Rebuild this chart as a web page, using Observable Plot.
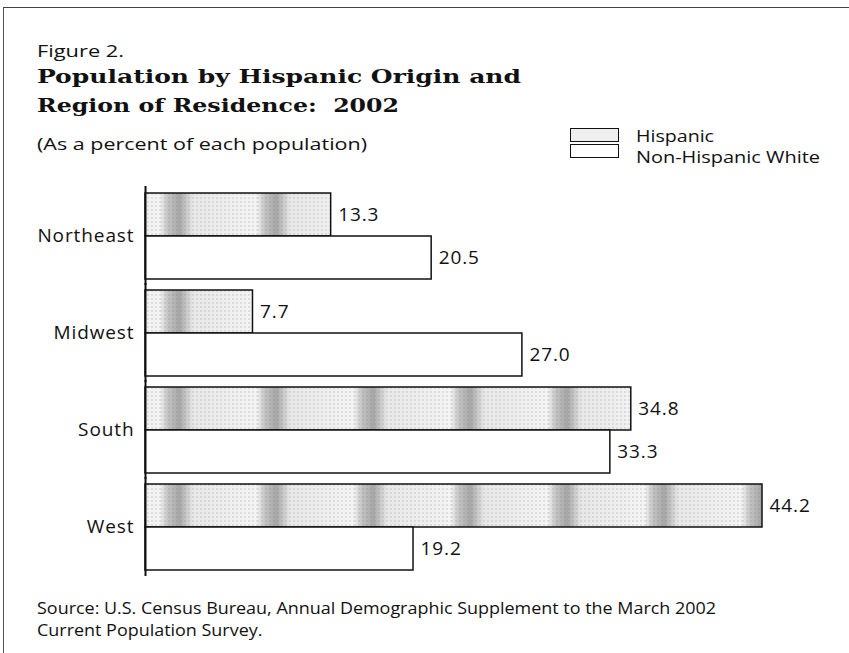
<!DOCTYPE html>
<html>
<head>
<meta charset="utf-8">
<script src="https://cdn.jsdelivr.net/npm/d3@7"></script>
<script src="https://cdn.jsdelivr.net/npm/@observablehq/plot@0.6"></script>
<style>
  html, body { margin: 0; padding: 0; background: #fff; }
  body { width: 849px; height: 653px; position: relative; overflow: hidden; font-family: "Open Sans", sans-serif; color: #111; }
  #frame { position: absolute; left: 3px; top: 7px; width: 846px; height: 660px; border-left: 1.5px solid #555; border-top: 1.5px solid #444; }
  .t { position: absolute; white-space: nowrap; transform-origin: 0 0; line-height: 1; }
  .serif { font-family: "DejaVu Serif", serif; font-weight: bold; }
  .sw { position: absolute; left: 570px; width: 49px; height: 14px; border: 1.5px solid #111; box-sizing: border-box; }
  #chart { position: absolute; left: 0; top: 180px; }
</style>
</head>
<body>
<div id="frame"></div>
<div class="t" data-w="87" style="left:37px; top:42px; font-size:17px">Figure 2.</div>
<div class="t serif" data-w="484" style="left:37px; top:67px; font-size:19px">Population by Hispanic Origin and</div>
<div class="t serif" data-w="362" style="left:37px; top:96px; font-size:19px">Region of Residence:&nbsp; 2002</div>
<div class="t" data-w="330" style="left:37px; top:135px; font-size:17px">(As a percent of each population)</div>
<div class="sw" style="top:128px; background:#efefef"></div>
<div class="sw" style="top:144px; background:#fff"></div>
<div class="t" data-w="78" style="left:636px; top:128px; font-size:16px">Hispanic</div>
<div class="t" data-w="184" style="left:636px; top:149px; font-size:16px">Non-Hispanic White</div>
<div class="t" data-w="679" style="left:37px; top:597px; font-size:16px; line-height:22px">Source: U.S. Census Bureau, Annual Demographic Supplement to the March 2002<br>Current Population Survey.</div>
<div id="chart"></div>
<script>
const regions = ["Northeast", "Midwest", "South", "West"];
const groups = ["Hispanic", "Non-Hispanic White"];
const hispanic = [13.3, 7.7, 34.8, 44.2];
const nonHispanicWhite = [20.5, 27.0, 33.3, 19.2];

const data = [];
regions.forEach((r, i) => {
  data.push({region: r, group: groups[0], value: hispanic[i]});
  data.push({region: r, group: groups[1], value: nonHispanicWhite[i]});
});

// stretch the HTML texts horizontally to the widths measured on the reference
document.querySelectorAll(".t[data-w]").forEach(el => {
  const w = el.getBoundingClientRect().width;
  const target = +el.dataset.w;
  if (w > 0) el.style.transform = `scaleX(${target / w})`;
});

const chart = Plot.plot({
  width: 849,
  height: 411,
  marginLeft: 145,
  marginRight: 87,
  marginTop: 11,
  marginBottom: 20,
  style: {fontFamily: "Open Sans, sans-serif", fontSize: "19px", letterSpacing: "0.9px", color: "#111", background: "transparent"},
  x: {domain: [0, 44.2], axis: null},
  y: {domain: groups, axis: null, padding: 0},
  fy: {domain: regions, paddingInner: 0.1, paddingOuter: 0, axis: "left", label: null, tickSize: 0, tickPadding: 11},
  facet: {data, y: "region"},
  marks: [
    Plot.barX(data.filter(d => d.group === groups[0]), {x: "value", y: "group", fy: "region", fill: "url(#hispPat)", stroke: "#111", strokeWidth: 1.5}),
    Plot.barX(data.filter(d => d.group === groups[1]), {x: "value", y: "group", fy: "region", fill: "white", stroke: "#111", strokeWidth: 1.5}),
    Plot.text(data, {x: "value", y: "group", fy: "region", text: d => d.value.toFixed(1), dx: 7, textAnchor: "start", fill: "#111", fontSize: 19}),
    Plot.ruleX([0], {stroke: "#111", strokeWidth: 2, insetTop: -6, insetBottom: -6})
  ]
});

// stipple pattern for Hispanic bars
const svg = d3.select(chart);
const defs = svg.insert("defs", ":first-child");
const grad = defs.append("linearGradient").attr("id", "blotch").attr("x1", 0).attr("x2", 1).attr("y1", 0).attr("y2", 0);
grad.append("stop").attr("offset", "0%").attr("stop-color", "#f2f2f2");
grad.append("stop").attr("offset", "8%").attr("stop-color", "#c4c4c4");
grad.append("stop").attr("offset", "20%").attr("stop-color", "#a6a6a6");
grad.append("stop").attr("offset", "34%").attr("stop-color", "#e8e8e8");
grad.append("stop").attr("offset", "100%").attr("stop-color", "#f4f4f4");
const dots = defs.append("pattern").attr("id", "dots").attr("patternUnits", "userSpaceOnUse").attr("width", 4).attr("height", 4);
dots.append("circle").attr("cx", 1).attr("cy", 1).attr("r", 0.7).attr("fill", "#777").attr("opacity", 0.45);
const pat = defs.append("pattern").attr("id", "hispPat").attr("patternUnits", "userSpaceOnUse").attr("width", 97).attr("height", 8).attr("x", 160);
pat.append("rect").attr("width", 97).attr("height", 8).attr("fill", "url(#blotch)");
pat.append("rect").attr("width", 97).attr("height", 8).attr("fill", "url(#dots)");

document.getElementById("chart").appendChild(chart);
</script>
</body>
</html>
